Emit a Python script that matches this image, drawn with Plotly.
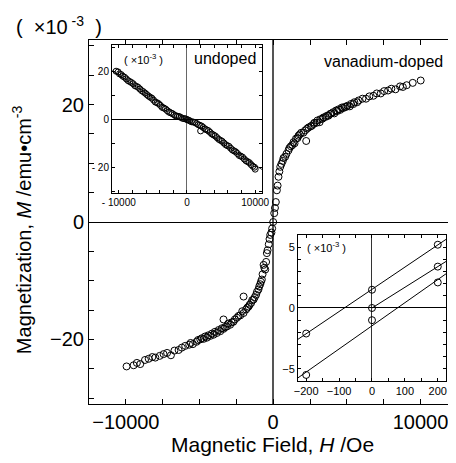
import numpy as np
import plotly.graph_objects as go

FONT = "Liberation Sans, Arial, sans-serif"

# vanadium-doped, main panel (H in Oe, M in 1e-3 emu/cm3)
H_pos_a = [0, 70, 180, 250, 360, 480, 650, 810, 1040, 1200, 1380, 1550, 1720, 1900, 2170, 2400, 2620, 2800,
           3010, 3200, 3410, 3650, 3860, 4070, 4270, 4450, 4660, 4850, 5040, 5280, 5510, 5800, 6060, 6530,
           7030, 7530, 8020, 8610, 9060, 9470, 10010]
M_pos_a = [0, 1.5, 3.4, 5.4, 7.7, 9.4, 10.4, 11.1, 12.2, 12.9, 13.6, 14.2, 14.7, 15.2, 15.6, 16.1, 16.4, 16.9,
           17.3, 17.5, 17.8, 18.1, 18.4, 18.7, 19.0, 19.2, 19.5, 19.6, 19.8, 20.1, 20.4, 20.7, 21.0, 21.4,
           21.9, 22.3, 22.7, 23.1, 23.3, 23.7, 24.1]
H_pos_b = [120, 300, 420, 560, 700, 900, 1100, 1300, 1450, 1650, 1800, 2050, 2240, 2300, 2550, 2750, 2950,
           3150, 3350, 3550, 3750, 3950, 4150, 4350, 4550, 4750, 4950, 5200, 5450, 5700, 6300, 6800, 7300,
           7800, 8300, 8800]
M_pos_b = [2.4, 6.2, 8.6, 9.9, 10.9, 11.6, 12.6, 13.1, 13.4, 14.3, 14.9, 15.2, 13.8, 15.9, 16.3, 16.7, 16.9,
           17.0, 17.6, 17.9, 18.1, 18.5, 18.5, 18.9, 19.1, 19.4, 19.6, 19.7, 20.1, 20.4, 21.0, 21.5, 21.9,
           22.4, 22.6, 23.0]
H_neg_a = [-70, -200, -300, -430, -540, -650, -770, -880, -1000, -1160, -1330, -1500, -1670, -1840, -2010,
           -2230, -2460, -2700, -2920, -3140, -3370, -3590, -3820, -4050, -4270, -4500, -4720, -4950, -5200,
           -5450, -5700, -5970, -6420, -6940, -7440, -8000, -8450, -9020, -9470, -9950]
M_neg_a = [-1.1, -2.2, -3.8, -5.3, -8.1, -7.3, -9.8, -10.6, -11.5, -12.4, -13.2, -13.8, -14.4, -14.9, -15.5,
           -15.9, -16.3, -17.0, -17.5, -17.8, -18.2, -18.6, -18.9, -19.2, -19.4, -19.7, -19.9, -20.0, -20.4,
           -20.8, -20.9, -21.1, -21.8, -22.7, -22.5, -23.1, -23.3, -24.2, -24.4, -24.6]
H_neg_b = [-120, -250, -380, -480, -600, -720, -830, -950, -1100, -1250, -1420, -1600, -1760, -2010, -2100,
           -2350, -2600, -2820, -3050, -3260, -3370, -3480, -3700, -3950, -4150, -4400, -4620, -4850, -5100,
           -5600, -6200, -6700, -7200, -7700, -8200, -8700, -9250]
M_neg_b = [-1.8, -2.9, -4.8, -6.8, -7.8, -8.9, -10.2, -11.0, -11.9, -12.8, -13.3, -14.1, -14.6, -12.7, -15.2,
           -16.0, -16.6, -17.1, -17.3, -17.9, -16.6, -18.1, -18.4, -18.7, -19.0, -19.3, -19.5, -19.8, -20.1,
           -20.6, -21.4, -21.9, -22.3, -22.8, -23.0, -23.5, -24.0]

# undoped inset
H_und_a = [-10400, -9900, -9400, -8900, -8400, -7900, -7400, -6900, -6400, -5900, -5400, -4900, -4400, -3900,
           -3400, -2900, -2400, -1900, -1400, -900, -400, 0, 400, 900, 1400, 1900, 2400, 2900, 3400, 3900,
           4400, 4900, 5400, 5900, 6400, 6900, 7400, 7900, 8400, 8900, 9400, 9900]
M_und_a = [20.1, 19.0, 18.0, 16.9, 15.8, 14.9, 13.8, 12.7, 11.6, 10.4, 9.3, 8.1, 7.0, 5.9,
           4.8, 3.7, 2.8, 2.0, 1.4, 0.9, 0.4, 0.0, -0.5, -1.0, -1.6, -2.4, -3.3, -4.3, -5.3, -6.4,
           -7.5, -8.6, -9.7, -10.8, -11.9, -13.0, -14.1, -15.2, -16.4, -17.5, -18.7, -19.8]
H_und_b = [-10100, -9650, -9150, -8650, -8150, -7650, -7150, -6650, -6150, -5650, -5150, -4650, -4150, -3650,
           -3150, -2650, -2150, -1650, -1150, -650, -200, 200, 650, 1150, 1650, 2000, 2150, 2650, 3150, 3650,
           4150, 4650, 5150, 5650, 6150, 6650, 7150, 7650, 8150, 8650, 9150, 9650, 10000]
M_und_b = [19.8, 18.7, 17.6, 16.2, 15.4, 14.1, 13.4, 12.0, 11.0, 9.8, 8.9, 7.3, 6.6, 5.1,
           4.4, 3.1, 2.5, 1.5, 1.3, 0.5, 0.3, -0.2, -0.9, -1.2, -2.1, -4.7, -2.7, -3.9, -4.6, -6.0,
           -6.8, -8.2, -9.0, -10.4, -11.1, -12.6, -13.4, -14.9, -15.6, -17.1, -17.9, -19.4, -20.6]

# low-field inset (three sweeps)
H_low = [-200, 0, 200]
M_low_upper = [-2.1, 1.5, 5.2]
M_low_lower = [-5.5, -1.0, 2.1]
H_low_virgin = [0, 200]
M_low_virgin = [0.0, 3.4]

main_xticks = [-10000, 0, 10000]
main_xtext = ["\u221210000", "0", "10000"]
main_yticks = [-20, 0, 20]
main_ytext = ["\u221220", "0", "20"]
und_xticks = [-10000, 0, 10000]
und_xtext = ["- 10000", "0", "10000"]
und_yticks = [-20, 0, 20]
und_ytext = ["- 20", "0", "20"]
low_xticks = [-200, -100, 0, 100, 200]
low_xtext = ["\u2212200", "\u2212100", "0", "100", "200"]
low_yticks = [-5, 0, 5]
low_ytext = ["\u22125", "0", "5"]

MAIN_X = [-12500, 12000]
MAIN_Y = [-31, 31]
UND_X = [-11000, 11000]
UND_Y = [-30.5, 31]
LOW_X = [-225, 225]
LOW_Y = [-6, 6]

circ = dict(symbol="circle-open", color="black", line=dict(width=1))

fig = go.Figure()

for h, m in [(H_neg_a, M_neg_a), (H_neg_b, M_neg_b), (H_pos_a, M_pos_a), (H_pos_b, M_pos_b)]:
    fig.add_trace(go.Scatter(x=h, y=m, mode="markers", marker=dict(size=7, **circ),
                             xaxis="x", yaxis="y", showlegend=False))

# undoped: linear fit line across the inset
und_h = np.array(H_und_a + H_und_b)
und_m = np.array(M_und_a + M_und_b)
k, b = np.polyfit(und_h, und_m, 1)
fig.add_trace(go.Scatter(x=UND_X, y=[k * UND_X[0] + b, k * UND_X[1] + b], mode="lines",
                         line=dict(color="black", width=0.8), xaxis="x2", yaxis="y2", showlegend=False))
for h, m in [(H_und_a, M_und_a), (H_und_b, M_und_b)]:
    fig.add_trace(go.Scatter(x=h, y=m, mode="markers", marker=dict(size=6, **circ),
                             xaxis="x2", yaxis="y2", showlegend=False))

# low field: straight lines through each sweep, extended to the frame
for h, m, x0 in [(H_low, M_low_upper, LOW_X[0]), (H_low, M_low_lower, LOW_X[0]),
                 (H_low_virgin, M_low_virgin, 0)]:
    k, b = np.polyfit(h, m, 1)
    fig.add_trace(go.Scatter(x=[x0, LOW_X[1]], y=[k * x0 + b, k * LOW_X[1] + b], mode="lines",
                             line=dict(color="black", width=1), xaxis="x3", yaxis="y3", showlegend=False))
    fig.add_trace(go.Scatter(x=h, y=m, mode="markers", marker=dict(size=7, **circ),
                             xaxis="x3", yaxis="y3", showlegend=False))

tick_font = dict(family=FONT, size=20, color="black")


def inset_axis(domain, anchor, rng, vals, text, minor, zc, fsize=11):
    return dict(domain=domain, anchor=anchor, range=rng, tickmode="array", tickvals=vals, ticktext=text,
                ticks="inside", ticklen=3, tickcolor="black", showline=True, linecolor="black", linewidth=1,
                mirror="ticks", showgrid=False, zeroline=True, zerolinecolor=zc, zerolinewidth=1,
                automargin=False, tickfont=dict(family=FONT, size=fsize, color="black"),
                minor=dict(tickmode="linear", tick0=0, dtick=minor, ticks="inside", ticklen=3,
                           tickcolor="black"))


def label(text, x, y, size, angle=0):
    return dict(text=text, x=x, y=y, xref="paper", yref="paper", xanchor="center", yanchor="middle",
                textangle=angle, showarrow=False, font=dict(family=FONT, size=size))


# the page adds an 8px body margin, so the figure is 8px smaller than the window
fig.update_layout(
    width=448, height=455,
    margin=dict(l=81, r=6, t=32, b=59),
    paper_bgcolor="white", plot_bgcolor="white",
    font=dict(family=FONT, color="black"),
    xaxis=dict(domain=[0, 1], anchor="y", range=MAIN_X, tickmode="array", tickvals=main_xticks,
               ticktext=main_xtext, ticks="inside", ticklen=5, tickcolor="black", showline=True,
               linecolor="black", linewidth=1, mirror="ticks", showgrid=False, zeroline=True,
               zerolinecolor="#555", zerolinewidth=1.5, tickfont=tick_font, automargin=False,
               minor=dict(tickmode="linear", tick0=0, dtick=2500, ticks="inside", ticklen=5,
                          tickcolor="black")),
    yaxis=dict(domain=[0, 1], anchor="x", range=MAIN_Y, tickmode="array", tickvals=main_yticks,
               ticktext=main_ytext, ticks="inside", ticklen=5, tickcolor="black", showline=True,
               linecolor="black", linewidth=1, mirror=False, showgrid=False, zeroline=True,
               zerolinecolor="black", zerolinewidth=1, tickfont=tick_font, automargin=False,
               minor=dict(tickmode="linear", tick0=0, dtick=5, ticks="inside", ticklen=5,
                          tickcolor="black")),
    yaxis4=dict(overlaying="y", side="right", anchor="x", range=MAIN_Y, tickmode="linear", tick0=0, dtick=5,
                ticks="outside", ticklen=4, tickcolor="black", showline=False, showgrid=False,
                zeroline=False, showticklabels=False, automargin=False),
    xaxis2=inset_axis([0.0637, 0.4792], "y2", UND_X, und_xticks, und_xtext, 2000, "#666", 10),
    yaxis2=inset_axis([0.5797, 0.9863], "x2", UND_Y, und_yticks, und_ytext, 10, "black", 10),
    xaxis3=inset_axis([0.5789, 0.9889], "y3", LOW_X, low_xticks, low_xtext, 50, "#333"),
    yaxis3=inset_axis([0.0632, 0.4643], "x3", LOW_Y, low_yticks, low_ytext, 1, "black"),
    annotations=[
        label("Magnetic Field, <i>H</i> /Oe", 0.507, -0.1126, 21),
        label("Magnetization, <i>M</i> /emu\u2022cm<sup>-3</sup>", -0.188, 0.478, 20, -90),
        label("(  \u00d710<sup> -3</sup>  )", -0.083, 1.041, 20),
        label("vanadium-doped", 0.817, 0.9396, 16),
        label("undoped", 0.3767, 0.948, 16),
        label("( \u00d710<sup>-3</sup> )", 0.1496, 0.948, 11),
        label("( \u00d710<sup>-3</sup> )", 0.659, 0.4313, 11),
    ],
)

fig.write_html("out.html")
